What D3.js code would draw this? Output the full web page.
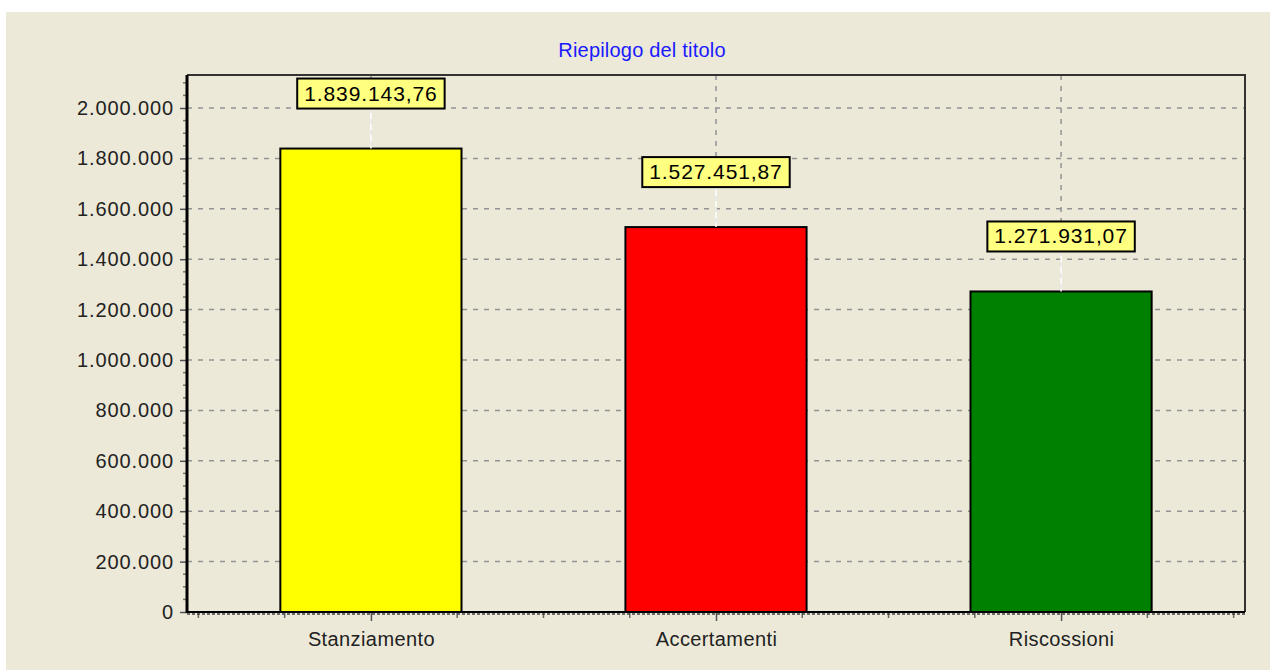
<!DOCTYPE html>
<html lang="en">
<head>
<meta charset="UTF-8">
<title>Riepilogo del titolo</title>
<script src="https://d3js.org/d3.v7.min.js"></script>
<style>
  body { margin: 0; background: #fff; }
  text { font-family: "Liberation Sans", Arial, sans-serif; }
</style>
</head>
<body>
<div id="chart"></div>
<script>
// data
const categories = ["Stanziamento", "Accertamenti", "Riscossioni"];
const values = [1839143.76, 1527451.87, 1271931.07];
const barColors = ["#ffff00", "#ff0000", "#008000"];
const yTicks = [0, 200000, 400000, 600000, 800000, 1000000, 1200000, 1400000, 1600000, 1800000, 2000000];

const width = 1270, height = 670;
const plot = { left: 187, right: 1245, top: 75, bottom: 612 };

const svg = d3.select("#chart").append("svg")
    .attr("width", width)
    .attr("height", height);

// background panel
svg.append("rect")
    .attr("x", 6).attr("y", 12)
    .attr("width", width - 6).attr("height", height - 12)
    .attr("fill", "#ece9d8");

// scales: categories sit at 1,2,3 on a linear axis
const x = d3.scaleLinear().domain([0.467, 3.533]).range([plot.left, plot.right]);
const y = d3.scaleLinear().domain([0, 2131000]).range([plot.bottom, plot.top]);

const itIT = d3.formatLocale({ decimal: ",", thousands: ".", grouping: [3], currency: ["€", ""] });
const fmtTick = itIT.format(",.0f");
const fmtVal = itIT.format(",.2f");

// title
svg.append("text")
    .attr("x", 642).attr("y", 57)
    .attr("text-anchor", "middle")
    .attr("font-size", 20)
    .attr("letter-spacing", 0.2)
    .attr("fill", "#1a1aff")
    .text("Riepilogo del titolo");

// gridlines
const grid = svg.append("g")
    .attr("stroke", "#939393")
    .attr("stroke-width", 1.5)
    .attr("stroke-dasharray", "5,6");

grid.selectAll("line.h")
    .data(yTicks.filter(d => d > 0))
    .join("line")
    .attr("class", "h")
    .attr("x1", plot.left).attr("x2", plot.right)
    .attr("y1", d => y(d)).attr("y2", d => y(d));

grid.selectAll("line.v")
    .data(categories)
    .join("line")
    .attr("class", "v")
    .attr("x1", (d, i) => x(i + 1)).attr("x2", (d, i) => x(i + 1))
    .attr("y1", plot.top).attr("y2", plot.bottom);

// bars
const barW = x(1.525) - x(1);
svg.selectAll("rect.bar")
    .data(values)
    .join("rect")
    .attr("class", "bar")
    .attr("x", (d, i) => x(i + 1) - barW / 2)
    .attr("y", d => y(d))
    .attr("width", barW)
    .attr("height", d => y(0) - y(d))
    .attr("fill", (d, i) => barColors[i])
    .attr("stroke", "#000")
    .attr("stroke-width", 2);

// plot frame (top and right)
svg.append("path")
    .attr("d", `M${plot.left},${plot.top}H${plot.right}V${plot.bottom}`)
    .attr("fill", "none")
    .attr("stroke", "#333")
    .attr("stroke-width", 2);

// y axis
const yMinor = d3.range(50000, 2131000, 50000).filter(d => d % 200000 !== 0);
svg.append("g")
    .selectAll("line")
    .data(yMinor)
    .join("line")
    .attr("x1", plot.left - 4).attr("x2", plot.left)
    .attr("y1", d => y(d)).attr("y2", d => y(d))
    .attr("stroke", "#777")
    .attr("stroke-width", 1.5);

const yAxis = svg.append("g")
    .attr("transform", `translate(${plot.left},0)`)
    .call(d3.axisLeft(y).tickValues(yTicks).tickFormat(fmtTick).tickSize(7).tickPadding(6));
yAxis.select(".domain").remove();
yAxis.selectAll(".tick line").attr("stroke", "#555").attr("stroke-width", 1.5);
yAxis.selectAll(".tick text")
    .attr("font-size", 20)
    .attr("letter-spacing", 0.9)
    .attr("fill", "#222")
    .style("font-family", "'Liberation Sans', Arial, sans-serif");

svg.append("line")
    .attr("x1", plot.left).attr("x2", plot.left)
    .attr("y1", plot.top).attr("y2", plot.bottom + 1)
    .attr("stroke", "#000")
    .attr("stroke-width", 3);

// x axis
const xMinor = d3.range(0.5, 3.51, 0.25).filter(d => !Number.isInteger(d));
svg.append("g")
    .selectAll("line")
    .data(xMinor)
    .join("line")
    .attr("x1", d => x(d)).attr("x2", d => x(d))
    .attr("y1", plot.bottom).attr("y2", plot.bottom + 6)
    .attr("stroke", "#666")
    .attr("stroke-width", 1.5);

const xAxis = svg.append("g")
    .attr("transform", `translate(0,${plot.bottom})`)
    .call(d3.axisBottom(x).tickValues([1, 2, 3]).tickFormat((d, i) => categories[i]).tickSize(9).tickPadding(11));
xAxis.select(".domain").remove();
xAxis.selectAll(".tick line").attr("stroke", "#555").attr("stroke-width", 1.5);
xAxis.selectAll(".tick text")
    .attr("font-size", 20)
    .attr("letter-spacing", 0.4)
    .attr("fill", "#222")
    .style("font-family", "'Liberation Sans', Arial, sans-serif");

svg.append("line")
    .attr("x1", plot.left).attr("x2", plot.right)
    .attr("y1", plot.bottom).attr("y2", plot.bottom)
    .attr("stroke", "#000")
    .attr("stroke-width", 2);
svg.append("line")
    .attr("x1", plot.left).attr("x2", plot.right)
    .attr("y1", plot.bottom + 2).attr("y2", plot.bottom + 2)
    .attr("stroke", "#444")
    .attr("stroke-width", 1.5)
    .attr("stroke-dasharray", "3,2");

// value labels with leader lines
const labels = svg.append("g");
values.forEach((v, i) => {
    const cx = x(i + 1);
    const top = y(v);
    const boxBottom = top - 40;
    const g = labels.append("g");
    g.append("line")
        .attr("x1", cx).attr("x2", cx)
        .attr("y1", top).attr("y2", boxBottom)
        .attr("stroke", "#fff")
        .attr("stroke-width", 1.5);
    const t = g.append("text")
        .attr("x", cx).attr("y", boxBottom - 8)
        .attr("text-anchor", "middle")
        .attr("font-size", 21)
        .attr("letter-spacing", 0.9)
        .attr("fill", "#000")
        .text(fmtVal(v));
    const w = t.node().getComputedTextLength() + 14;
    g.insert("rect", "text")
        .attr("x", cx - w / 2).attr("y", boxBottom - 30)
        .attr("width", w).attr("height", 30)
        .attr("fill", "#ffff80")
        .attr("stroke", "#000")
        .attr("stroke-width", 2);
});
</script>
</body>
</html>
